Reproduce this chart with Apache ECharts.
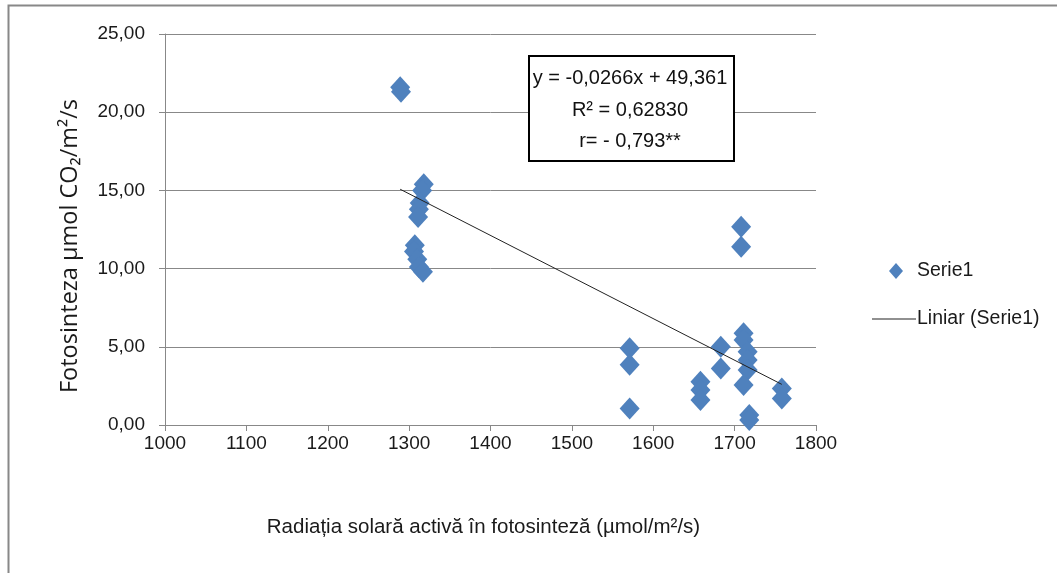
<!DOCTYPE html>
<html>
<head>
<meta charset="utf-8">
<script src="https://cdn.jsdelivr.net/npm/echarts@6/dist/echarts.min.js"></script>
<style>
html,body{margin:0;padding:0;background:#fff;}
#chart{width:1057px;height:573px;}
</style>
</head>
<body>
<div id="chart"></div>
<script>
// Radiation (x) values
const radiation = [
  1289, 1290,
  1318, 1316, 1313, 1312, 1311,
  1307, 1306, 1310, 1312, 1317,
  1571, 1571, 1571,
  1658, 1658, 1658,
  1683, 1683,
  1708, 1708,
  1711, 1711, 1716, 1716, 1716, 1711,
  1718, 1718,
  1758, 1758
];
// Photosynthesis (y) values
const photosynthesis = [
  21.6, 21.3,
  15.4, 15.0, 14.2, 13.8, 13.3,
  11.5, 11.1, 10.6, 10.1, 9.8,
  4.9, 3.85, 1.05,
  2.77, 2.24, 1.6,
  5.0, 3.62,
  12.68, 11.4,
  5.86, 5.43, 4.69, 4.16, 3.52, 2.56,
  0.64, 0.32,
  2.34, 1.7
];
const xTicks = [1000, 1100, 1200, 1300, 1400, 1500, 1600, 1700, 1800];
const yTicks = [0, 5, 10, 15, 20, 25];
const trendSlope = -0.0266;
const trendIntercept = 49.361;
const seriesName = 'Serie1';
const trendName = 'Liniar (Serie1)';
const xTitle = 'Radiația solară activă în fotosinteză (µmol/m²/s)';
const yTitle = 'Fotosinteza µmol CO₂/m²/s';
const eqLines = ['y = -0,0266x + 49,361', 'R² = 0,62830', 'r= - 0,793**'];

const points = radiation.map((x, i) => [x, photosynthesis[i]]);
const xMin = Math.min(...radiation), xMax = Math.max(...radiation);
const trendData = [[xMin, trendSlope * xMin + trendIntercept], [xMax, trendSlope * xMax + trendIntercept]];

const fam = "'Liberation Sans', Arial, sans-serif";
const txt = '#1a1a1a';
const chart = echarts.init(document.getElementById('chart'), null, {renderer: 'canvas'});
chart.setOption({
  animation: false,
  backgroundColor: '#fff',
  grid: {left: 165, right: 241, top: 34, bottom: 148},
  xAxis: {
    type: 'value', min: xTicks[0], max: xTicks[xTicks.length - 1], interval: 100,
    name: xTitle, nameLocation: 'middle', nameGap: 92,
    nameTextStyle: {fontFamily: fam, fontSize: 20.5, color: txt, padding: [0, 14, 0, 0]},
    axisLine: {show: true, lineStyle: {color: '#888', width: 1}},
    axisTick: {show: true, length: 6, lineStyle: {color: '#888'}},
    axisLabel: {fontFamily: fam, fontSize: 19, color: txt, margin: 9, formatter: v => String(v)},
    splitLine: {show: false}
  },
  yAxis: {
    type: 'value', min: yTicks[0], max: yTicks[yTicks.length - 1], interval: 5,
    axisLine: {show: true, lineStyle: {color: '#888', width: 1}},
    axisTick: {show: true, length: 6, lineStyle: {color: '#888'}},
    axisLabel: {fontFamily: fam, fontSize: 19, color: txt, margin: 20,
      formatter: v => v.toFixed(2).replace('.', ',')},
    splitLine: {show: true, lineStyle: {color: '#888', width: 1}}
  },
  legend: [
    {data: [{name: seriesName, icon: 'diamond'}], orient: 'vertical', left: 884, top: 256,
     itemWidth: 14, itemHeight: 16, itemGap: 10,
     textStyle: {fontFamily: fam, fontSize: 19.5, color: txt, padding: [0, 0, 0, 9]}},
    {data: [{name: trendName, icon: 'rect'}], orient: 'vertical', left: 867, top: 304,
     itemWidth: 44, itemHeight: 1, itemGap: 10,
     textStyle: {fontFamily: fam, fontSize: 19.5, color: txt, padding: [0, 0, 0, -4]}}
  ],
  graphic: [
    {type: 'rect', left: 6, top: 3, shape: {width: 1100, height: 620}, style: {fill: 'none', stroke: '#888', lineWidth: 2}, silent: true},
    {type: 'text', x: 70, y: 246, rotation: Math.PI / 2,
     style: {text: yTitle, font: "23.5px 'Open Sans', sans-serif", fill: txt, align: 'center', verticalAlign: 'middle'}},
    {type: 'rect', left: 528, top: 55, shape: {width: 205, height: 105}, style: {fill: '#fff', stroke: '#000', lineWidth: 2}, z: 100},
    {type: 'text', x: 630, y: 78, style: {text: eqLines[0], font: "20px " + fam, fill: '#111', align: 'center', verticalAlign: 'middle'}, z: 101},
    {type: 'text', x: 630, y: 110, style: {text: eqLines[1], font: "20px " + fam, fill: '#111', align: 'center', verticalAlign: 'middle'}, z: 101},
    {type: 'text', x: 630, y: 141, style: {text: eqLines[2], font: "20px " + fam, fill: '#111', align: 'center', verticalAlign: 'middle'}, z: 101}
  ],
  series: [
    {name: seriesName, type: 'scatter', data: points, symbol: 'diamond', symbolSize: [20, 22],
     itemStyle: {color: '#4F81BD', opacity: 1}, z: 3},
    {name: trendName, type: 'line', data: trendData, symbol: 'none',
     lineStyle: {color: '#222', width: 1}, itemStyle: {color: '#222'}, z: 4}
  ]
});
</script>
</body>
</html>
